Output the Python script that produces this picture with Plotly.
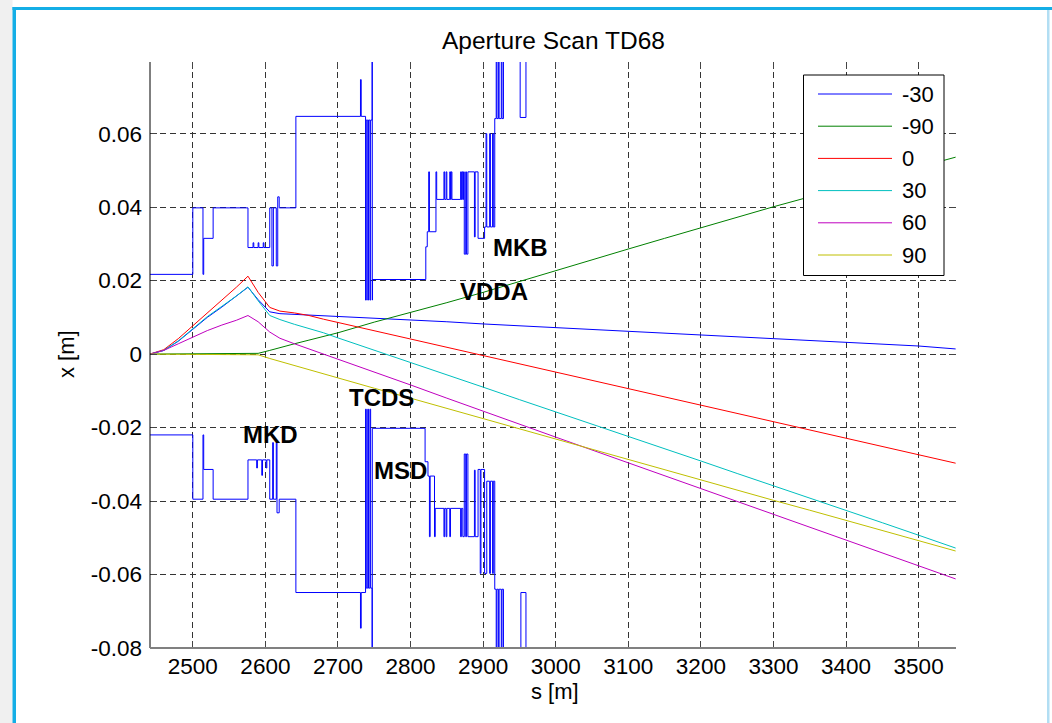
import plotly.graph_objects as go

# ---------------------------------------------------------------- data
# longitudinal positions of the tracked orbits [m]
s_track = [2441, 2460, 2480, 2500, 2520, 2540, 2560, 2576, 2590, 2606, 2620,
           2640, 2660, 2680, 2700, 2750, 2800, 2850, 2900, 2950, 3000, 3050,
           3100, 3150, 3200, 3250, 3300, 3350, 3400, 3450, 3500, 3551]

# horizontal orbit x [m] for each kicker phase setting
x_m30 = [0, 0.0010, 0.0035, 0.0068, 0.0100, 0.0128, 0.0157, 0.0182, 0.0148, 0.0115, 0.0110,
         0.0108, 0.0106, 0.0104, 0.0102, 0.0099, 0.0093, 0.0088, 0.0082, 0.0077, 0.0072, 0.0068,
         0.0063, 0.0058, 0.0052, 0.0047, 0.0041, 0.0036, 0.0032, 0.0027, 0.0022, 0.0014]
x_m90 = [0, 0, 0, 0, 0, 0, 0, 0, 0.0002, 0.0010, 0.0018,
         0.0028, 0.0038, 0.0048, 0.0058, 0.0087, 0.0113, 0.0140, 0.0168, 0.0198, 0.0228, 0.0257,
         0.0286, 0.0315, 0.0344, 0.0373, 0.0401, 0.0428, 0.0455, 0.0482, 0.0509, 0.0536]
x_0 = [0, 0.0012, 0.0042, 0.0077, 0.0112, 0.0146, 0.0182, 0.0212, 0.0168, 0.0127, 0.0117,
       0.0112, 0.0105, 0.0095, 0.0086, 0.0064, 0.0042, 0.0019, -0.0003, -0.0026, -0.0049, -0.0071,
       -0.0094, -0.0116, -0.0139, -0.0162, -0.0184, -0.0207, -0.0229, -0.0252, -0.0274, -0.0297]
x_30 = [0, 0.0010, 0.0036, 0.0070, 0.0102, 0.0130, 0.0158, 0.0183, 0.0145, 0.0105, 0.0094,
        0.0081, 0.0070, 0.0058, 0.0044, 0.0011, -0.0023, -0.0056, -0.0090, -0.0124, -0.0157, -0.0190,
        -0.0224, -0.0258, -0.0291, -0.0325, -0.0358, -0.0392, -0.0425, -0.0459, -0.0493, -0.0528]
x_60 = [0, 0.0010, 0.0028, 0.0047, 0.0064, 0.0079, 0.0092, 0.0105, 0.0088, 0.0060, 0.0043,
        0.0028, 0.0014, 0.0002, -0.0012, -0.0048, -0.0084, -0.0120, -0.0156, -0.0191, -0.0226, -0.0261,
        -0.0296, -0.0331, -0.0366, -0.0401, -0.0436, -0.0471, -0.0506, -0.0541, -0.0576, -0.0612]
x_90 = [0, 0, 0, 0, 0, 0, 0, 0, -0.0002, -0.0012, -0.0020,
        -0.0031, -0.0042, -0.0053, -0.0065, -0.0093, -0.0120, -0.0148, -0.0176, -0.0204, -0.0231, -0.0259,
        -0.0287, -0.0314, -0.0342, -0.0370, -0.0398, -0.0425, -0.0453, -0.0481, -0.0508, -0.0536]

series_names = ["-30", "-90", "0", "30", "60", "90"]
series_values = [x_m30, x_m90, x_0, x_30, x_60, x_90]
series_colors = ["#0000ff", "#008000", "#ff0000", "#00bfbf", "#bf00bf", "#bfbf00"]

# aperture limits (step profile, value holds until the next position); 0.1 = open / off scale
aper_up_s = [2441, 2500, 2514, 2515, 2528, 2576, 2583, 2584, 2590, 2591, 2597, 2598,
             2606, 2609, 2611, 2615, 2617, 2619, 2642, 2731, 2732,
             2738, 2739, 2741, 2742, 2744, 2745, 2747, 2747.3, 2747.6,
             2821, 2823, 2825, 2826, 2835, 2836, 2846, 2847, 2849, 2850, 2854, 2855,
             2856, 2857, 2869, 2870, 2871, 2872, 2873, 2874, 2876, 2877, 2879,
             2888, 2889, 2893, 2902, 2904, 2905, 2909, 2910, 2913, 2914,
             2916, 2918, 2919, 2921, 2922, 2925, 2926, 2928, 2951, 2959, 3551]
aper_up_x = [0.0217, 0.0398, 0.0217, 0.0315, 0.0398, 0.0290, 0.0303, 0.0290, 0.0303, 0.0290, 0.0303, 0.0290,
             0.0398, 0.0240, 0.0398, 0.0240, 0.0428, 0.0398, 0.0647, 0.0747, 0.0647,
             0.0147, 0.0637, 0.0147, 0.0637, 0.0147, 0.0637, 0.1, 0.0147, 0.0203,
             0.0292, 0.0333, 0.0496, 0.0333, 0.0496, 0.0421, 0.0496, 0.0421, 0.0496, 0.0421, 0.0496, 0.0421,
             0.0496, 0.0421, 0.0496, 0.0421, 0.0496, 0.0421, 0.0496, 0.0272, 0.0496, 0.0272, 0.0496,
             0.0319, 0.0496, 0.0315, 0.0346, 0.0600, 0.0346, 0.0600, 0.0346, 0.0600, 0.0346,
             0.0641, 0.1, 0.0641, 0.1, 0.0641, 0.1, 0.0641, 0.1, 0.0644, 0.1, 0.1]

aper_lo_s = [2441, 2500, 2514, 2515, 2528, 2576, 2588, 2589, 2595, 2596, 2601, 2602,
             2606, 2610, 2611, 2615, 2616, 2619, 2642, 2731, 2732,
             2738, 2739, 2741, 2742, 2744, 2745, 2747, 2747.3,
             2820, 2824, 2826, 2827, 2833, 2834, 2846, 2847, 2849, 2850, 2854, 2855,
             2869, 2870, 2872, 2874, 2876, 2877, 2879, 2888, 2889,
             2893, 2896, 2897, 2902, 2905, 2909, 2910, 2913, 2914,
             2916, 2918, 2919, 2921, 2922, 2925, 2926, 2928, 2952, 2959, 3551]
aper_lo_x = [-0.0220, -0.0395, -0.0220, -0.0314, -0.0395, -0.0288, -0.0310, -0.0288, -0.0330, -0.0288, -0.0310, -0.0288,
             -0.0395, -0.0241, -0.0395, -0.0241, -0.0432, -0.0395, -0.0649, -0.0746, -0.0649,
             -0.0150, -0.0637, -0.0150, -0.0637, -0.0150, -0.0637, -0.1, -0.0202,
             -0.0293, -0.0332, -0.0497, -0.0332, -0.0497, -0.0420, -0.0497, -0.0420, -0.0497, -0.0420, -0.0497, -0.0420,
             -0.0497, -0.0420, -0.0497, -0.0272, -0.0497, -0.0272, -0.0497, -0.0316, -0.0497,
             -0.0314, -0.0597, -0.0314, -0.0597, -0.0346, -0.0597, -0.0346, -0.0597, -0.0346,
             -0.0640, -0.1, -0.0640, -0.1, -0.0640, -0.1, -0.0640, -0.1, -0.0649, -0.1, -0.1]

# element labels: (name, s, x)
element_labels = [("MKB", 2911, 0.0291), ("VDDA", 2865, 0.0171), ("TCDS", 2713, -0.0117),
                  ("MKD", 2567, -0.0218), ("MSD", 2747, -0.0316)]

x_ticks = [2500, 2600, 2700, 2800, 2900, 3000, 3100, 3200, 3300, 3400, 3500]
y_ticks = [-0.08, -0.06, -0.04, -0.02, 0, 0.02, 0.04, 0.06]
y_tick_text = ["-0.08", "-0.06", "-0.04", "-0.02", "0", "0.02", "0.04", "0.06"]

# ---------------------------------------------------------------- layout geometry (pixels)
W, H = 1052, 723
PL, PR, PT, PB = 150, 956, 62, 648   # plot area box


def px_x(p):
    return (p - PL) / (PR - PL)


def px_y(p):
    return (PB - p) / (PB - PT)


FONT = "Liberation Sans, Arial, Helvetica, sans-serif"

fig = go.Figure()

for name, vals, col in zip(series_names, series_values, series_colors):
    fig.add_trace(go.Scatter(x=s_track, y=vals, mode="lines", name=name,
                             line=dict(color=col, width=1), showlegend=False))

for sx, ax_vals in ((aper_up_s, aper_up_x), (aper_lo_s, aper_lo_x)):
    fig.add_trace(go.Scatter(x=sx, y=ax_vals, mode="lines", line_shape="hv",
                             line=dict(color="#0000ff", width=1), showlegend=False))

annotations = []
for name, s, xv in element_labels:
    annotations.append(dict(x=s, y=xv, xref="x", yref="y", text="<b>%s</b>" % name,
                            showarrow=False, xanchor="left", yanchor="middle",
                            font=dict(family=FONT, size=24, color="black")))

# axis titles
annotations.append(dict(x=px_x(555), y=px_y(691), xref="paper", yref="paper", text="s [m]",
                        showarrow=False, xanchor="center", yanchor="middle",
                        font=dict(family=FONT, size=22, color="black")))
annotations.append(dict(x=px_x(66), y=px_y(354), xref="paper", yref="paper", text="x [m]",
                        showarrow=False, xanchor="center", yanchor="middle", textangle=-90,
                        font=dict(family=FONT, size=22, color="black")))
annotations.append(dict(x=px_x(553), y=px_y(40), xref="paper", yref="paper",
                        text="Aperture Scan TD68", showarrow=False,
                        xanchor="center", yanchor="middle",
                        font=dict(family=FONT, size=24.5, color="black")))

shapes = []
# window frame around the figure
shapes.append(dict(type="rect", xref="paper", yref="paper", layer="above",
                   x0=px_x(0), x1=px_x(12.5), y0=px_y(H), y1=px_y(0),
                   fillcolor="#f0f0f0", line=dict(width=0)))
shapes.append(dict(type="rect", xref="paper", yref="paper", layer="above",
                   x0=px_x(12.5), x1=px_x(16), y0=px_y(H), y1=px_y(7),
                   fillcolor="#14aee6", line=dict(width=0)))
shapes.append(dict(type="rect", xref="paper", yref="paper", layer="above",
                   x0=px_x(12.5), x1=px_x(W), y0=px_y(10), y1=px_y(7),
                   fillcolor="#14aee6", line=dict(width=0)))
shapes.append(dict(type="rect", xref="paper", yref="paper", layer="above",
                   x0=px_x(1047), x1=px_x(1049.5), y0=px_y(H), y1=px_y(10),
                   fillcolor="#b2def3", line=dict(width=0)))
# axis lines
shapes.append(dict(type="line", xref="paper", yref="paper", layer="above",
                   x0=0, x1=0, y0=0, y1=1, line=dict(color="black", width=1)))
shapes.append(dict(type="line", xref="paper", yref="paper", layer="above",
                   x0=0, x1=1, y0=0, y1=0, line=dict(color="#808080", width=2)))

# legend box
LX0, LX1, LY0, LY1 = 803.5, 944, 75, 275.5
shapes.append(dict(type="rect", xref="paper", yref="paper", layer="above",
                   x0=px_x(LX0), x1=px_x(LX1), y0=px_y(LY1), y1=px_y(LY0),
                   fillcolor="white", line=dict(color="black", width=1)))
row_y0, row_dy = 94, 32.2
for i, (name, col) in enumerate(zip(series_names, series_colors)):
    yy = row_y0 + i * row_dy
    shapes.append(dict(type="line", xref="paper", yref="paper", layer="above",
                       x0=px_x(818), x1=px_x(892), y0=px_y(yy), y1=px_y(yy),
                       line=dict(color=col, width=1)))
    annotations.append(dict(x=px_x(900), y=px_y(yy), xref="paper", yref="paper", text=name,
                            showarrow=False, xanchor="left", yanchor="middle",
                            font=dict(family=FONT, size=22, color="black")))

fig.update_layout(
    width=W, height=H,
    margin=dict(l=PL, r=W - PR, t=PT, b=H - PB, pad=0),
    paper_bgcolor="white", plot_bgcolor="white",
    showlegend=False,
    font=dict(family=FONT, size=22, color="black"),
    annotations=annotations,
    shapes=shapes,
)

fig.update_xaxes(range=[2441, 3551.5], tickvals=x_ticks, ticktext=[str(v) for v in x_ticks],
                 showgrid=True, gridcolor="#333333", gridwidth=1, griddash="6px,4px",
                 zeroline=False, showline=False, mirror="ticks",
                 ticks="inside", ticklen=7, tickcolor="#444444", tickwidth=1,
                 ticklabelstandoff=2,
                 tickfont=dict(family=FONT, size=22.5, color="black"))
fig.update_yaxes(range=[-0.08, 0.0795], tickvals=y_ticks, ticktext=y_tick_text,
                 showgrid=True, gridcolor="#333333", gridwidth=1, griddash="6px,4px",
                 zeroline=False, showline=False, mirror="ticks",
                 ticks="inside", ticklen=7, tickcolor="#444444", tickwidth=1,
                 ticklabelstandoff=7,
                 tickfont=dict(family=FONT, size=22.5, color="black"))

fig.write_html("out.html")
